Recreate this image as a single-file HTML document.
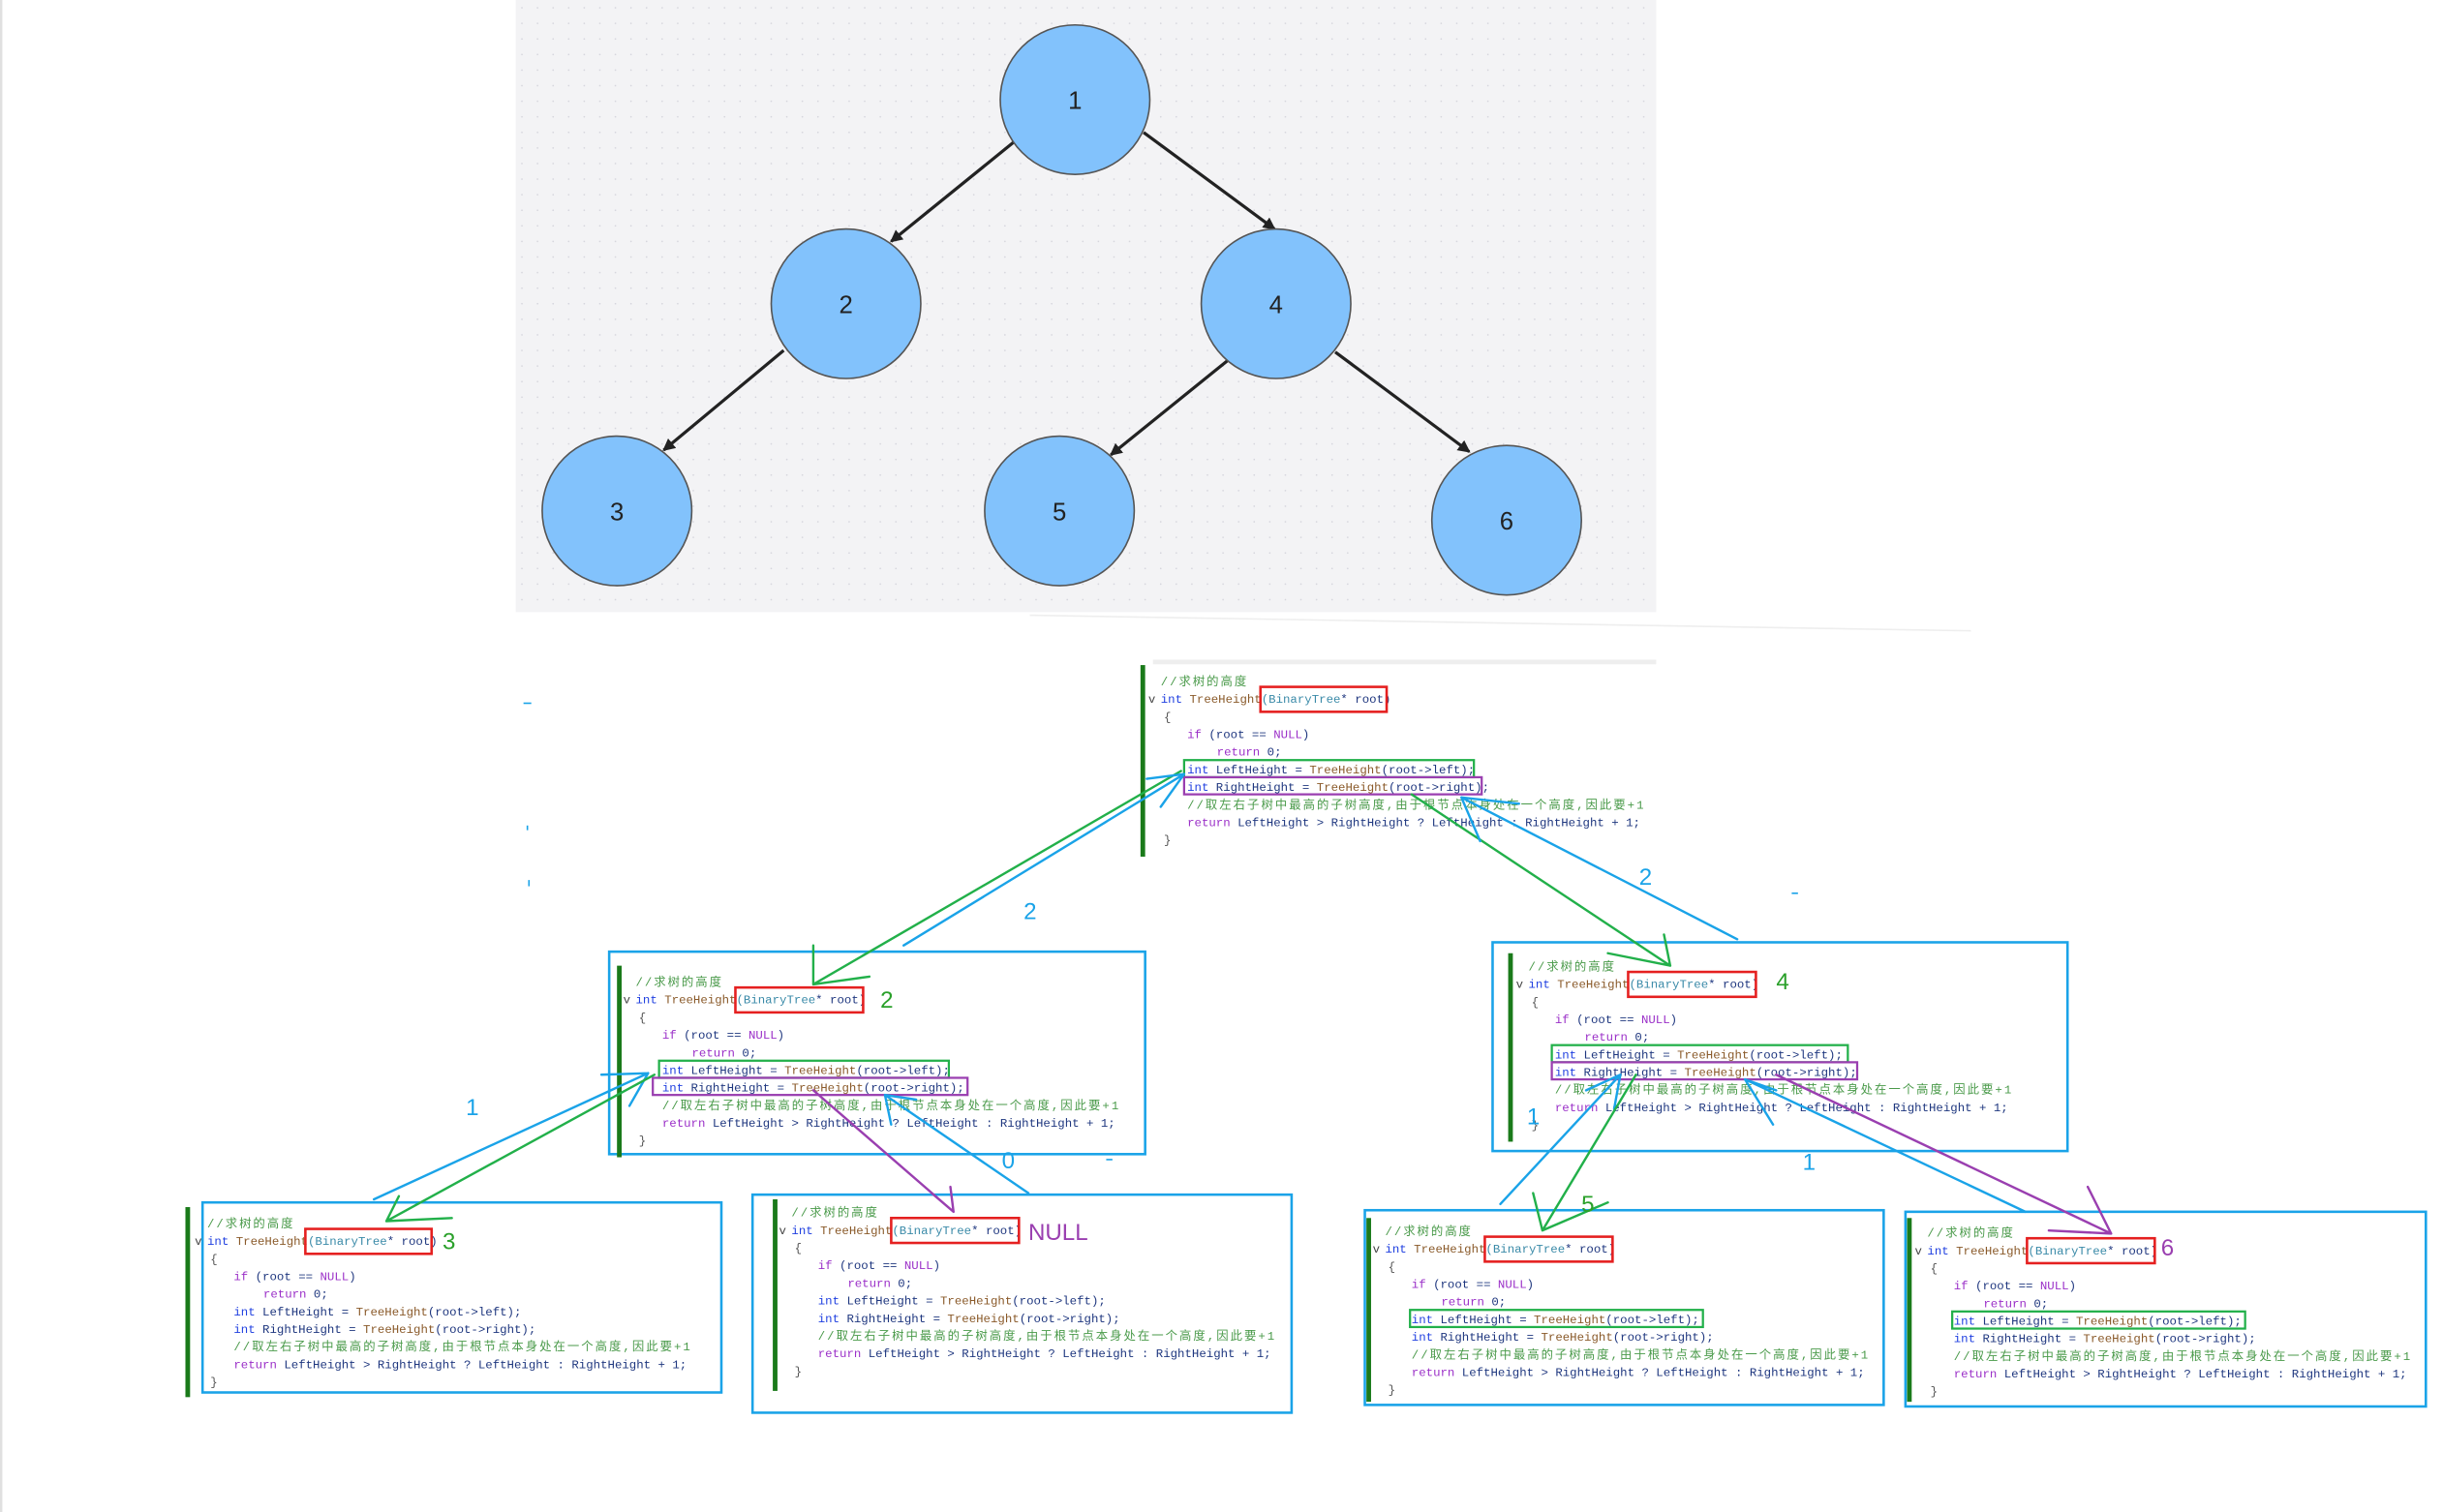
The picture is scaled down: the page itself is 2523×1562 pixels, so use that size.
<!DOCTYPE html>
<html><head><meta charset="utf-8"><style>
html,body{margin:0;padding:0;background:#fff;}
svg{display:block;}
.c text{font-family:"Liberation Mono","Noto Sans CJK SC",monospace;font-size:7.7px;fill:#1f377f;}
.lbl{font-family:"Liberation Sans","Noto Sans CJK SC",sans-serif;}
</style></head><body>
<svg width="2523" height="1562" viewBox="0 0 1568 970.75" preserveAspectRatio="none" xmlns="http://www.w3.org/2000/svg">
<defs>
<pattern id="dots" width="10" height="10" patternUnits="userSpaceOnUse"><rect width="10" height="10" fill="#f3f3f5"/><circle cx="5" cy="5" r="0.5" fill="#d4d4dc"/></pattern>
<marker id="ab" markerWidth="8" markerHeight="8" refX="7" refY="4" orient="auto" markerUnits="userSpaceOnUse"><path d="M0,0 L8,4 L0,8 z" fill="#222"/></marker>
</defs>
<rect x="0" y="0" width="1.5" height="971" fill="#e0e0e0"/>
<rect x="331" y="0" width="732" height="393" fill="url(#dots)"/>
<line x1="661" y1="395" x2="1265" y2="405" stroke="#eee" stroke-width="1"/>
<!-- tree edges -->
<g stroke="#222" stroke-width="2" fill="none" marker-end="url(#ab)">
<line x1="651" y1="91" x2="572" y2="155"/>
<line x1="734" y1="85" x2="818" y2="147"/>
<line x1="503" y1="225" x2="426" y2="289"/>
<line x1="791" y1="229" x2="713" y2="292"/>
<line x1="857" y1="226" x2="943" y2="290"/>
</g>
<g fill="#82c2fc" stroke="#555" stroke-width="1">
<circle cx="690" cy="64" r="48"/><circle cx="543" cy="195" r="48"/><circle cx="819" cy="195" r="48"/>
<circle cx="396" cy="328" r="48"/><circle cx="680" cy="328" r="48"/><circle cx="967" cy="334" r="48"/>
</g>
<g class="lbl" font-size="16" fill="#222" text-anchor="middle">
<text x="690" y="70">1</text><text x="543" y="201">2</text><text x="819" y="201">4</text>
<text x="396" y="334">3</text><text x="680" y="334">5</text><text x="967" y="340">6</text>
</g>

<!-- blue frames -->
<g fill="none" stroke="#1aa3e8" stroke-width="1.6">
<rect x="391" y="611" width="344" height="130"/>
<rect x="958" y="605" width="369" height="134"/>
<rect x="130" y="772" width="333" height="122"/>
<rect x="483" y="767" width="346" height="140"/>
<rect x="876" y="777" width="333" height="125"/>
<rect x="1223" y="778" width="334" height="125"/>
</g>
<line x1="740" y1="425" x2="1063" y2="425" stroke="#eee" stroke-width="3"/>
<!-- green bars -->
<g fill="#1a7a1a">
<rect x="732" y="427" width="3" height="123"/>
<rect x="396" y="620" width="3" height="123"/>
<rect x="968" y="612" width="3" height="121"/>
<rect x="119" y="775" width="3" height="122"/>
<rect x="496" y="770" width="3" height="123"/>
<rect x="877" y="782" width="3" height="118"/>
<rect x="1224" y="782" width="3" height="118"/>
</g>

<!-- code blocks -->
<g class="c">
<g transform="translate(745,440)">
<text x="0" y="0" textLength="55" fill="#4a9a4a" style="fill:#4a9a4a">//求树的高度</text>
<text x="-8" y="11.3" style="fill:#444">v</text>
<text x="0" y="11.3"><tspan style="fill:#2040e0">int</tspan> <tspan style="fill:#8a5a2a">TreeHeight</tspan><tspan style="fill:#3a8aa8">(BinaryTree</tspan>* root)</text>
<text x="2" y="22.6" style="fill:#555">{</text>
<text x="17" y="33.9"><tspan style="fill:#9b30c8">if</tspan> (root == <tspan style="fill:#9b30c8">NULL</tspan>)</text>
<text x="36" y="45.2"><tspan style="fill:#9b30c8">return</tspan> 0;</text>
<text x="17" y="56.5"><tspan style="fill:#2040e0">int</tspan> LeftHeight = <tspan style="fill:#8a5a2a">TreeHeight</tspan>(root-&gt;left);</text>
<text x="17" y="67.8"><tspan style="fill:#2040e0">int</tspan> RightHeight = <tspan style="fill:#8a5a2a">TreeHeight</tspan>(root-&gt;right);</text>
<text x="17" y="79.1" textLength="293" style="fill:#4a9a4a">//取左右子树中最高的子树高度,由于根节点本身处在一个高度,因此要+1</text>
<text x="17" y="90.4"><tspan style="fill:#9b30c8">return</tspan> LeftHeight &gt; RightHeight ? LeftHeight : RightHeight + 1;</text>
<text x="2" y="101.7" style="fill:#555">}</text>
</g>
</g>
<g class="c" id="b2" transform="translate(408,633)">
<text x="0" y="0" textLength="55" style="fill:#4a9a4a">//求树的高度</text>
<text x="-8" y="11.3" style="fill:#444">v</text>
<text x="0" y="11.3"><tspan style="fill:#2040e0">int</tspan> <tspan style="fill:#8a5a2a">TreeHeight</tspan><tspan style="fill:#3a8aa8">(BinaryTree</tspan>* root)</text>
<text x="2" y="22.6" style="fill:#555">{</text>
<text x="17" y="33.9"><tspan style="fill:#9b30c8">if</tspan> (root == <tspan style="fill:#9b30c8">NULL</tspan>)</text>
<text x="36" y="45.2"><tspan style="fill:#9b30c8">return</tspan> 0;</text>
<text x="17" y="56.5"><tspan style="fill:#2040e0">int</tspan> LeftHeight = <tspan style="fill:#8a5a2a">TreeHeight</tspan>(root-&gt;left);</text>
<text x="17" y="67.8"><tspan style="fill:#2040e0">int</tspan> RightHeight = <tspan style="fill:#8a5a2a">TreeHeight</tspan>(root-&gt;right);</text>
<text x="17" y="79.1" textLength="293" style="fill:#4a9a4a">//取左右子树中最高的子树高度,由于根节点本身处在一个高度,因此要+1</text>
<text x="17" y="90.4"><tspan style="fill:#9b30c8">return</tspan> LeftHeight &gt; RightHeight ? LeftHeight : RightHeight + 1;</text>
<text x="2" y="101.7" style="fill:#555">}</text>
</g>
<g class="c" transform="translate(981,623)">
<text x="0" y="0" textLength="55" style="fill:#4a9a4a">//求树的高度</text>
<text x="-8" y="11.3" style="fill:#444">v</text>
<text x="0" y="11.3"><tspan style="fill:#2040e0">int</tspan> <tspan style="fill:#8a5a2a">TreeHeight</tspan><tspan style="fill:#3a8aa8">(BinaryTree</tspan>* root)</text>
<text x="2" y="22.6" style="fill:#555">{</text>
<text x="17" y="33.9"><tspan style="fill:#9b30c8">if</tspan> (root == <tspan style="fill:#9b30c8">NULL</tspan>)</text>
<text x="36" y="45.2"><tspan style="fill:#9b30c8">return</tspan> 0;</text>
<text x="17" y="56.5"><tspan style="fill:#2040e0">int</tspan> LeftHeight = <tspan style="fill:#8a5a2a">TreeHeight</tspan>(root-&gt;left);</text>
<text x="17" y="67.8"><tspan style="fill:#2040e0">int</tspan> RightHeight = <tspan style="fill:#8a5a2a">TreeHeight</tspan>(root-&gt;right);</text>
<text x="17" y="79.1" textLength="293" style="fill:#4a9a4a">//取左右子树中最高的子树高度,由于根节点本身处在一个高度,因此要+1</text>
<text x="17" y="90.4"><tspan style="fill:#9b30c8">return</tspan> LeftHeight &gt; RightHeight ? LeftHeight : RightHeight + 1;</text>
<text x="2" y="101.7" style="fill:#555">}</text>
</g>
<g class="c" transform="translate(133,788)">
<text x="0" y="0" textLength="55" style="fill:#4a9a4a">//求树的高度</text>
<text x="-8" y="11.3" style="fill:#444">v</text>
<text x="0" y="11.3"><tspan style="fill:#2040e0">int</tspan> <tspan style="fill:#8a5a2a">TreeHeight</tspan><tspan style="fill:#3a8aa8">(BinaryTree</tspan>* root)</text>
<text x="2" y="22.6" style="fill:#555">{</text>
<text x="17" y="33.9"><tspan style="fill:#9b30c8">if</tspan> (root == <tspan style="fill:#9b30c8">NULL</tspan>)</text>
<text x="36" y="45.2"><tspan style="fill:#9b30c8">return</tspan> 0;</text>
<text x="17" y="56.5"><tspan style="fill:#2040e0">int</tspan> LeftHeight = <tspan style="fill:#8a5a2a">TreeHeight</tspan>(root-&gt;left);</text>
<text x="17" y="67.8"><tspan style="fill:#2040e0">int</tspan> RightHeight = <tspan style="fill:#8a5a2a">TreeHeight</tspan>(root-&gt;right);</text>
<text x="17" y="79.1" textLength="293" style="fill:#4a9a4a">//取左右子树中最高的子树高度,由于根节点本身处在一个高度,因此要+1</text>
<text x="17" y="90.4"><tspan style="fill:#9b30c8">return</tspan> LeftHeight &gt; RightHeight ? LeftHeight : RightHeight + 1;</text>
<text x="2" y="101.7" style="fill:#555">}</text>
</g>
<g class="c" transform="translate(508,781)">
<text x="0" y="0" textLength="55" style="fill:#4a9a4a">//求树的高度</text>
<text x="-8" y="11.3" style="fill:#444">v</text>
<text x="0" y="11.3"><tspan style="fill:#2040e0">int</tspan> <tspan style="fill:#8a5a2a">TreeHeight</tspan><tspan style="fill:#3a8aa8">(BinaryTree</tspan>* root)</text>
<text x="2" y="22.6" style="fill:#555">{</text>
<text x="17" y="33.9"><tspan style="fill:#9b30c8">if</tspan> (root == <tspan style="fill:#9b30c8">NULL</tspan>)</text>
<text x="36" y="45.2"><tspan style="fill:#9b30c8">return</tspan> 0;</text>
<text x="17" y="56.5"><tspan style="fill:#2040e0">int</tspan> LeftHeight = <tspan style="fill:#8a5a2a">TreeHeight</tspan>(root-&gt;left);</text>
<text x="17" y="67.8"><tspan style="fill:#2040e0">int</tspan> RightHeight = <tspan style="fill:#8a5a2a">TreeHeight</tspan>(root-&gt;right);</text>
<text x="17" y="79.1" textLength="293" style="fill:#4a9a4a">//取左右子树中最高的子树高度,由于根节点本身处在一个高度,因此要+1</text>
<text x="17" y="90.4"><tspan style="fill:#9b30c8">return</tspan> LeftHeight &gt; RightHeight ? LeftHeight : RightHeight + 1;</text>
<text x="2" y="101.7" style="fill:#555">}</text>
</g>
<g class="c" transform="translate(889,793)">
<text x="0" y="0" textLength="55" style="fill:#4a9a4a">//求树的高度</text>
<text x="-8" y="11.3" style="fill:#444">v</text>
<text x="0" y="11.3"><tspan style="fill:#2040e0">int</tspan> <tspan style="fill:#8a5a2a">TreeHeight</tspan><tspan style="fill:#3a8aa8">(BinaryTree</tspan>* root)</text>
<text x="2" y="22.6" style="fill:#555">{</text>
<text x="17" y="33.9"><tspan style="fill:#9b30c8">if</tspan> (root == <tspan style="fill:#9b30c8">NULL</tspan>)</text>
<text x="36" y="45.2"><tspan style="fill:#9b30c8">return</tspan> 0;</text>
<text x="17" y="56.5"><tspan style="fill:#2040e0">int</tspan> LeftHeight = <tspan style="fill:#8a5a2a">TreeHeight</tspan>(root-&gt;left);</text>
<text x="17" y="67.8"><tspan style="fill:#2040e0">int</tspan> RightHeight = <tspan style="fill:#8a5a2a">TreeHeight</tspan>(root-&gt;right);</text>
<text x="17" y="79.1" textLength="293" style="fill:#4a9a4a">//取左右子树中最高的子树高度,由于根节点本身处在一个高度,因此要+1</text>
<text x="17" y="90.4"><tspan style="fill:#9b30c8">return</tspan> LeftHeight &gt; RightHeight ? LeftHeight : RightHeight + 1;</text>
<text x="2" y="101.7" style="fill:#555">}</text>
</g>
<g class="c" transform="translate(1237,794)">
<text x="0" y="0" textLength="55" style="fill:#4a9a4a">//求树的高度</text>
<text x="-8" y="11.3" style="fill:#444">v</text>
<text x="0" y="11.3"><tspan style="fill:#2040e0">int</tspan> <tspan style="fill:#8a5a2a">TreeHeight</tspan><tspan style="fill:#3a8aa8">(BinaryTree</tspan>* root)</text>
<text x="2" y="22.6" style="fill:#555">{</text>
<text x="17" y="33.9"><tspan style="fill:#9b30c8">if</tspan> (root == <tspan style="fill:#9b30c8">NULL</tspan>)</text>
<text x="36" y="45.2"><tspan style="fill:#9b30c8">return</tspan> 0;</text>
<text x="17" y="56.5"><tspan style="fill:#2040e0">int</tspan> LeftHeight = <tspan style="fill:#8a5a2a">TreeHeight</tspan>(root-&gt;left);</text>
<text x="17" y="67.8"><tspan style="fill:#2040e0">int</tspan> RightHeight = <tspan style="fill:#8a5a2a">TreeHeight</tspan>(root-&gt;right);</text>
<text x="17" y="79.1" textLength="293" style="fill:#4a9a4a">//取左右子树中最高的子树高度,由于根节点本身处在一个高度,因此要+1</text>
<text x="17" y="90.4"><tspan style="fill:#9b30c8">return</tspan> LeftHeight &gt; RightHeight ? LeftHeight : RightHeight + 1;</text>
<text x="2" y="101.7" style="fill:#555">}</text>
</g>

<!-- red signature boxes -->
<g fill="none" stroke="#e52020" stroke-width="1.6">
<rect x="809" y="441" width="81" height="16"/>
<rect x="472" y="634" width="82" height="16"/>
<rect x="1045" y="624" width="82" height="16"/>
<rect x="196" y="789" width="81" height="16"/>
<rect x="572" y="782" width="82" height="16"/>
<rect x="953" y="794" width="82" height="16"/>
<rect x="1301" y="795" width="82" height="16"/>
</g>
<!-- green / purple highlight boxes -->
<g fill="none" stroke-width="1.4">
<rect x="760" y="488" width="186" height="11" stroke="#22b04a"/>
<rect x="760" y="499" width="191" height="11" stroke="#9a3fb0"/>
<rect x="423" y="681" width="186" height="11" stroke="#22b04a"/>
<rect x="419" y="692" width="202" height="11" stroke="#9a3fb0"/>
<rect x="996" y="671" width="190" height="11" stroke="#22b04a"/>
<rect x="996" y="682" width="196" height="11" stroke="#9a3fb0"/>
<rect x="905" y="841" width="188" height="11" stroke="#22b04a"/>
<rect x="1253" y="842" width="188" height="11" stroke="#22b04a"/>
</g>

<!-- connector lines -->
<g fill="none" stroke-width="1.5" stroke-linecap="round">
<!-- top <-> block2 -->
<path d="M758,495 L522,632 M522,632 L522,607 M522,632 L558,627" stroke="#22b04a"/>
<path d="M580,607 L760,497 M760,497 L736,500 M760,497 L745,518" stroke="#1aa3e8"/>
<!-- top <-> block4 -->
<path d="M906,510 L1072,620 M1072,620 L1068,600 M1072,620 L1032,612" stroke="#22b04a"/>
<path d="M1115,603 L938,512 M938,512 L950,540 M938,512 L975,516" stroke="#1aa3e8"/>
<!-- block2 <-> block3 -->
<path d="M240,770 L416,689 M416,689 L386,690 M416,689 L404,710" stroke="#1aa3e8"/>
<path d="M420,690 L248,784 M248,784 L256,768 M248,784 L290,782" stroke="#22b04a"/>
<!-- block2 <-> NULL -->
<path d="M522,700 L612,778 M612,778 L598,766 M612,778 L610,762" stroke="#9a3fb0"/>
<path d="M660,766 L568,703 M568,703 L572,722 M568,703 L588,706" stroke="#1aa3e8"/>
<!-- block4 <-> block5 -->
<path d="M963,773 L1040,690 M1040,690 L1036,712 M1040,690 L1018,700" stroke="#1aa3e8"/>
<path d="M1050,690 L990,790 M990,790 L984,766 M990,790 L1032,772" stroke="#22b04a"/>
<!-- block4 <-> block6 -->
<path d="M1140,690 L1355,792 M1355,792 L1340,762 M1355,792 L1315,790" stroke="#9a3fb0"/>
<path d="M1300,778 L1120,693 M1120,693 L1140,700 M1120,693 L1138,722" stroke="#1aa3e8"/>
</g>

<!-- step labels -->
<g class="lbl" font-size="15">
<text x="565" y="647" fill="#2aa02a">2</text>
<text x="1140" y="635" fill="#2aa02a">4</text>
<text x="284" y="802" fill="#2aa02a">3</text>
<text x="660" y="796" fill="#9a3fb0">NULL</text>
<text x="1015" y="778" fill="#2aa02a">5</text>
<text x="1387" y="806" fill="#9a3fb0">6</text>
<text x="657" y="590" fill="#1aa3e8">2</text>
<text x="1052" y="568" fill="#1aa3e8">2</text>
<text x="299" y="716" fill="#1aa3e8">1</text>
<text x="643" y="750" fill="#1aa3e8">0</text>
<text x="980" y="722" fill="#1aa3e8">1</text>
<text x="1157" y="751" fill="#1aa3e8">1</text>
</g>
<g fill="#1aa3e8"><rect x="336" y="451" width="5" height="1"/><rect x="338" y="530" width="1" height="3"/><rect x="339" y="565" width="1" height="4"/><rect x="1150" y="573" width="4" height="1"/><rect x="710" y="744" width="4" height="1"/></g>
</svg>
</body></html>
